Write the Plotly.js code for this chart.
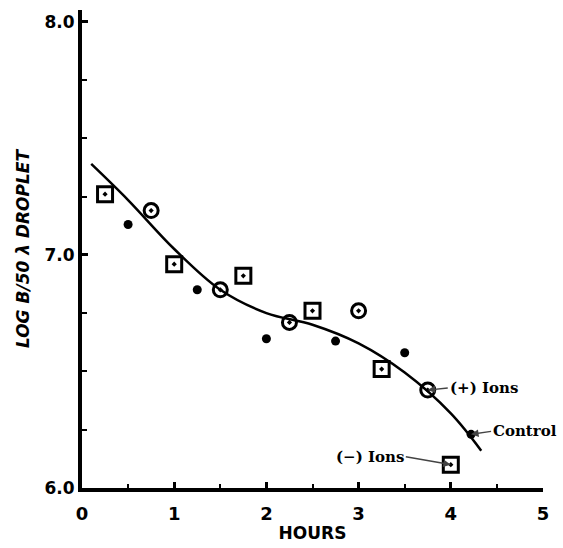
<!DOCTYPE html>
<html>
<head>
<meta charset="utf-8">
<script src="https://cdn.plot.ly/plotly-3.0.1.min.js"></script>
<style>html,body{margin:0;padding:0;background:#fff;}#chart{width:563px;height:548px;}</style>
</head>
<body>
<div id="chart"></div>
<script>
// Control (filled dots)
const controlHours = [0.5, 1.25, 2.0, 2.75, 3.5, 4.22];
const controlLog = [7.13, 6.85, 6.64, 6.63, 6.58, 6.23];
// (+) Ions (open circles with dot)
const posHours = [0.75, 1.5, 2.25, 3.0, 3.75];
const posLog = [7.19, 6.85, 6.71, 6.76, 6.42];
// (-) Ions (open squares with dot)
const negHours = [0.25, 1.0, 1.75, 2.5, 3.25, 4.0];
const negLog = [7.26, 6.96, 6.91, 6.76, 6.51, 6.10];
// Fitted curve
const curveHours = [0.10, 0.5, 1.0, 1.5, 2.0, 2.5, 3.0, 3.5, 4.0, 4.33];
const curveLog = [7.39, 7.235, 7.025, 6.85, 6.75, 6.70, 6.62, 6.495, 6.32, 6.16];

const xTicks = [0, 1, 2, 3, 4, 5];
const xTickText = ['0', '1', '2', '3', '4', '5'];
const yTicks = [6, 7, 8];
const yTickText = ['6.0', '7.0', '8.0'];

const fontFam = 'DejaVu Sans, sans-serif';

const traces = [
  {x: curveHours, y: curveLog, mode: 'lines', line: {color: '#000', width: 2.5, shape: 'spline', smoothing: 1}, hoverinfo: 'skip'},
  {x: controlHours, y: controlLog, mode: 'markers', name: 'Control',
   marker: {symbol: 'circle', size: 9, color: '#000'}},
  {x: posHours, y: posLog, mode: 'markers', name: '(+) Ions',
   marker: {symbol: 'circle-open-dot', size: 14, color: '#000', line: {width: 3, color: '#000'}}},
  {x: negHours, y: negLog, mode: 'markers', name: '(-) Ions',
   marker: {symbol: 'square-open-dot', size: 15, color: '#000', line: {width: 3, color: '#000'}}}
];

const layout = {
  width: 563, height: 548,
  margin: {l: 82, r: 20, t: 10, b: 60},
  paper_bgcolor: '#fff', plot_bgcolor: '#fff',
  showlegend: false,
  font: {family: fontFam, color: '#000'},
  xaxis: {
    range: [0, 5], tickvals: xTicks, ticktext: xTickText,
    showgrid: false, zeroline: false, showline: true, linewidth: 4, linecolor: '#000',
    ticks: 'inside', ticklen: 6, tickwidth: 3, tickcolor: '#000',
    minor: {dtick: 0.5, ticks: 'inside', ticklen: 4, tickwidth: 2, tickcolor: '#000'},
    ticklabelstandoff: 6,
    tickfont: {size: 18, weight: 'bold', family: fontFam},
    title: {text: 'HOURS', font: {size: 17, weight: 'bold', family: fontFam}, standoff: 6}
  },
  yaxis: {
    range: [6, 8.05], tickvals: yTicks, ticktext: yTickText,
    showgrid: false, zeroline: false, showline: true, linewidth: 4, linecolor: '#000',
    ticks: 'inside', ticklen: 6, tickwidth: 3, tickcolor: '#000',
    minor: {dtick: 0.25, ticks: 'inside', ticklen: 5, tickwidth: 2, tickcolor: '#000'},
    tickfont: {size: 17, weight: 'bold', family: fontFam},
    title: {text: '<i>LOG B/50 λ DROPLET</i>', font: {size: 17, weight: 'bold', family: fontFam}, standoff: 12}
  },
  annotations: [
    {x: posHours[4], y: posLog[4], text: '<b>(+) Ions</b>', showarrow: true, arrowhead: 2, arrowsize: 1, arrowwidth: 1.5,
     ax: 20, ay: -2, xanchor: 'left', font: {size: 15, family: 'DejaVu Serif, serif'}},
    {x: controlHours[5], y: controlLog[5], text: '<b>Control</b>', showarrow: true, arrowhead: 2, arrowsize: 1, arrowwidth: 1.5,
     ax: 20, ay: -3, xanchor: 'left', font: {size: 15, family: 'DejaVu Serif, serif'}},
    {x: negHours[5], y: negLog[5], text: '<b>(−) Ions</b>', showarrow: true, arrowhead: 2, arrowsize: 1, arrowwidth: 1.5,
     ax: -45, ay: -8, xanchor: 'right', font: {size: 15, family: 'DejaVu Serif, serif'}}
  ]
};

Plotly.newPlot('chart', traces, layout, {displayModeBar: false, staticPlot: true});
</script>
</body>
</html>
